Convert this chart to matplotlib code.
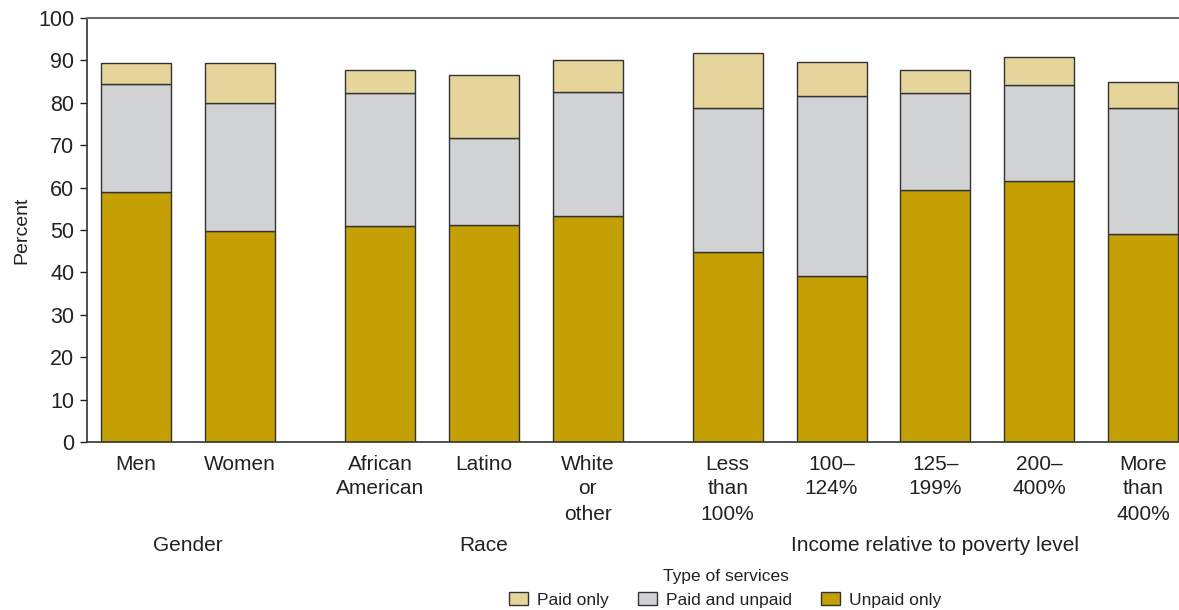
import matplotlib
matplotlib.use("Agg")
import matplotlib.pyplot as plt
import matplotlib.transforms as mtransforms
from matplotlib.patches import Patch

plt.rcParams["font.family"] = ["Liberation Sans", "DejaVu Sans"]

# categories (tick labels) and groups
categories = ["Men", "Women",
              "African\nAmerican", "Latino", "White\nor\nother",
              "Less\nthan\n100%", "100\u2013\n124%", "125\u2013\n199%",
              "200\u2013\n400%", "More\nthan\n400%"]
groups = ["Gender", "Race", "Income relative to poverty level"]
group_sizes = [2, 3, 5]

# series values (percent)
unpaid_only = [59.0, 49.8, 50.9, 51.1, 53.3, 44.8, 39.2, 59.4, 61.5, 49.0]
paid_and_unpaid = [25.5, 30.2, 31.4, 20.6, 29.2, 34.0, 42.5, 22.8, 22.6, 29.8]
paid_only = [5.0, 9.5, 5.5, 14.9, 7.5, 12.9, 8.0, 5.6, 6.6, 6.2]

series_names = ["Paid only", "Paid and unpaid", "Unpaid only"]
colors = {"Paid only": "#E6D59A", "Paid and unpaid": "#D1D2D4", "Unpaid only": "#C4A004"}

TEXT = "#222222"
EDGE = "#333333"

# x positions with extra gap between groups
GROUP_GAP = 1.35
xs = []
pos = 0.0
for gi, n in enumerate(group_sizes):
    for j in range(n):
        xs.append(pos)
        pos += 1.0
    pos += GROUP_GAP - 1.0

fig = plt.figure(figsize=(11.79, 6.10), dpi=100)
ax = fig.add_axes([87 / 1179, 168 / 610, 1092 / 1179, 424 / 610])

width = 0.674
ax.bar(xs, unpaid_only, width=width, color=colors["Unpaid only"],
       edgecolor=EDGE, linewidth=1.0)
bottom2 = unpaid_only
ax.bar(xs, paid_and_unpaid, width=width, bottom=bottom2,
       color=colors["Paid and unpaid"], edgecolor=EDGE, linewidth=1.0)
bottom3 = [a + b for a, b in zip(unpaid_only, paid_and_unpaid)]
ax.bar(xs, paid_only, width=width, bottom=bottom3,
       color=colors["Paid only"], edgecolor=EDGE, linewidth=1.0)

ax.set_ylim(0, 100)
ax.set_xlim(xs[0] - 0.472, xs[-1] + 0.347)
ax.set_yticks(range(0, 101, 10))
ax.tick_params(axis="y", labelsize=15.5, length=5, width=1, colors=TEXT, pad=4)
ax.set_xticks(xs)
ax.set_xticklabels(categories, fontsize=15, color=TEXT, linespacing=1.4)
ax.tick_params(axis="x", length=0, pad=9)
ax.set_ylabel("Percent", fontsize=14, color=TEXT, labelpad=6)

for side in ["left", "bottom"]:
    ax.spines[side].set_color(EDGE)
    ax.spines[side].set_linewidth(1.2)
ax.spines["top"].set_color("#666666")
ax.spines["top"].set_linewidth(1.4)
ax.spines["right"].set_visible(False)

# group labels under tick labels
trans = mtransforms.blended_transform_factory(ax.transData, ax.transAxes)
start = 0
for name, n in zip(groups, group_sizes):
    center = (xs[start] + xs[start + n - 1]) / 2
    ax.text(center, -0.245, name, transform=trans, ha="center", va="center",
            fontsize=15, color=TEXT)
    start += n

# legend with its title as separate text
fig.text(726 / 1179, 1 - 577 / 610, "Type of services", ha="center", va="center",
         fontsize=12.5, color=TEXT)
handles = [Patch(facecolor=colors[s], edgecolor=EDGE, linewidth=1.0) for s in series_names]
leg = fig.legend(handles, series_names, loc="center", ncol=3,
                 bbox_to_anchor=(725 / 1179, 1 - 600 / 610), frameon=False,
                 fontsize=12.5, handlelength=1.1, handleheight=0.8,
                 handletextpad=0.5, columnspacing=1.7, borderaxespad=0.0,
                 borderpad=0.0)
for t in leg.get_texts():
    t.set_color(TEXT)

fig.savefig("out.png", dpi=100)
